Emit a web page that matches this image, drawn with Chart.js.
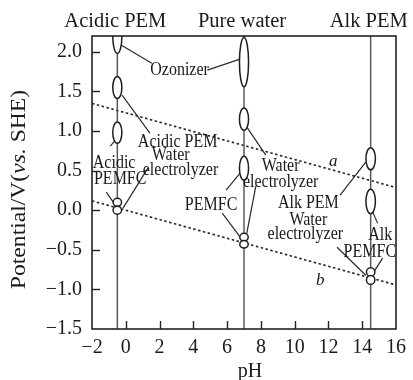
<!DOCTYPE html>
<html><head><meta charset="utf-8">
<script src="https://cdn.jsdelivr.net/npm/chart.js@4.4.1/dist/chart.umd.min.js"></script>
<style>html,body{margin:0;padding:0;background:#fff}#wrap{width:413px;height:380px}</style>
</head><body><div id="wrap"><canvas id="c" width="413" height="380"></canvas></div>
<script>
// ---- data ----
const xTicks = [-2, 0, 2, 4, 6, 8, 10, 12, 14, 16];
const yTicks = [-1.5, -1.0, -0.5, 0.0, 0.5, 1.0, 1.5, 2.0];
const xRange = [-2, 16];
const yRange = [-1.5, 2.2];
const phLines = [-0.5, 7, 14.5];
const phLineLabels = ['Acidic PEM', 'Pure water', 'Alk PEM'];
const lineX = [-2, 16];
const lineA = [1.348, 0.286];   // O2/H2O
const lineB = [0.118, -0.944];  // H+/H2
const ellipseX  = [-0.5, -0.5, -0.5, -0.5, -0.5, 7, 7, 7, 7, 7, 14.5, 14.5, 14.5, 14.5];
const ellipseY  = [2.2, 1.55, 0.98, 0.10, 0.0, 1.87, 1.15, 0.53, -0.34, -0.43, 0.65, 0.11, -0.78, -0.88];
const ellipseRy = [0.22, 0.14, 0.135, 0.05, 0.05, 0.31, 0.14, 0.15, 0.048, 0.048, 0.14, 0.155, 0.055, 0.055];
const ellipseRx = [0.27, 0.27, 0.27, 0.25, 0.25, 0.27, 0.27, 0.27, 0.25, 0.25, 0.28, 0.28, 0.25, 0.25];
const leaderFrom = [[-0.28, 2.085], [4.83, 1.769], [-0.22, 1.453], [-0.16, 0.027], [-0.45, 0.923], [-1.155, 0.229],
                    [7.17, 1.049], [7.70, 0.304], [6.82, 0.481], [5.71, -0.037], [14.21, 0.607], [12.51, -0.468],
                    [14.62, -0.024], [15.21, -0.605]];
const leaderTo   = [[1.54, 1.857], [6.76, 1.908], [1.43, 0.973], [1.31, 0.532], [-0.92, 0.809], [-0.745, 0.103],
                    [8.29, 0.696], [7.11, -0.352], [5.94, 0.254], [6.93, -0.385], [12.69, 0.191], [14.21, -0.821],
                    [14.91, -0.163], [14.68, -0.782]];
const noteText = ['Ozonizer', 'Acidic PEM', 'Water', 'electrolyzer', 'Acidic', 'PEMFC', 'Water', 'electrolyzer',
                  'PEMFC', 'Alk PEM', 'Water', 'electrolyzer', 'Alk', 'PEMFC'];
const noteX = [3.185, 3.07, 2.66, 3.24, -0.69, -0.33, 9.17, 9.17, 5.05, 10.81, 10.81, 10.63, 15.07, 14.45];
const noteY = [1.769, 0.860, 0.696, 0.506, 0.595, 0.393, 0.557, 0.355, 0.070, 0.090, -0.125, -0.302, -0.315, -0.529];
const lineNames = ['a', 'b'];
const lineNameX = [12.28, 11.51];
const lineNameY = [0.62, -0.882];

const SERIF = '"Liberation Serif", "DejaVu Serif", serif';
const INK = '#1a1a1a';
const fmtY = v => (v < 0 ? '\u2212' : '') + Math.abs(v).toFixed(1);
const fmtX = v => (v < 0 ? '\u2212' : '') + Math.abs(v);

const overlay = {
  id: 'overlay',
  afterDatasetsDraw(chart) {
    const {ctx, chartArea: a, scales: {x, y}} = chart;
    const X = v => x.getPixelForValue(v), Y = v => y.getPixelForValue(v);
    ctx.save();
    // leader lines
    ctx.strokeStyle = '#2a2a2a'; ctx.lineWidth = 1.2;
    leaderFrom.forEach((p, i) => {
      const q = leaderTo[i];
      ctx.beginPath(); ctx.moveTo(X(p[0]), Y(p[1])); ctx.lineTo(X(q[0]), Y(q[1])); ctx.stroke();
    });
    ctx.save();
    ctx.beginPath(); ctx.rect(a.left, a.top, a.right - a.left, a.bottom - a.top); ctx.clip();
    // ellipses
    ellipseX.forEach((ex, i) => {
      const cx = X(ex), cy = Y(ellipseY[i]);
      const rx = Math.abs(X(ex + ellipseRx[i]) - cx);
      const ry = Math.abs(Y(ellipseY[i] + ellipseRy[i]) - cy);
      ctx.beginPath(); ctx.ellipse(cx, cy, rx, ry, 0, 0, 2 * Math.PI);
      ctx.fillStyle = '#fff'; ctx.fill();
      ctx.lineWidth = 1.5; ctx.strokeStyle = '#1e1e1e'; ctx.stroke();
    });
    // notes (slightly tall, condensed serif)
    ctx.fillStyle = INK; ctx.textAlign = 'center'; ctx.textBaseline = 'middle';
    ctx.font = '16.5px ' + SERIF;
    noteText.forEach((t, i) => {
      ctx.save();
      ctx.translate(X(noteX[i]), Y(noteY[i]));
      ctx.scale(0.97, 1.16);
      ctx.fillText(t, 0, 0);
      ctx.restore();
    });
    ctx.font = 'italic 17px ' + SERIF;
    lineNames.forEach((t, i) => ctx.fillText(t, X(lineNameX[i]), Y(lineNameY[i])));
    ctx.restore();
    // frame
    ctx.strokeStyle = '#222'; ctx.lineWidth = 1.6;
    ctx.strokeRect(a.left, a.top, a.right - a.left, a.bottom - a.top);
    // inner ticks
    ctx.lineWidth = 1.4;
    xTicks.forEach(v => {
      if (v <= xRange[0] || v >= xRange[1]) return;
      const px = Math.round(X(v)) + 0.5;
      ctx.beginPath(); ctx.moveTo(px, a.bottom); ctx.lineTo(px, a.bottom - 8); ctx.stroke();
    });
    yTicks.forEach(v => {
      if (v <= yRange[0] || v >= yRange[1]) return;
      const py = Math.round(Y(v)) + 0.5;
      ctx.beginPath(); ctx.moveTo(a.left, py); ctx.lineTo(a.left + 8, py); ctx.stroke();
    });
    ctx.fillStyle = INK; ctx.textAlign = 'center'; ctx.textBaseline = 'middle';
    // headers
    ctx.font = '20.5px ' + SERIF;
    phLineLabels.forEach((t, i) => ctx.fillText(t, X(phLines[i]) - 2, a.top - 14));
    // x title
    ctx.font = '20px ' + SERIF;
    ctx.fillText('pH', (a.left + a.right) / 2 + 6, a.bottom + 43);
    // y title with italic vs.
    ctx.save();
    ctx.translate(20, (a.top + a.bottom) / 2 + 7);
    ctx.rotate(-Math.PI / 2);
    ctx.scale(1.18, 1);
    const parts = [['Potential/V(', '20px '], ['vs.', 'italic 20px '], [' SHE)', '20px ']];
    let total = 0;
    parts.forEach(p => { ctx.font = p[1] + SERIF; total += ctx.measureText(p[0]).width; });
    let cx = -total / 2;
    ctx.textAlign = 'left';
    parts.forEach(p => { ctx.font = p[1] + SERIF; ctx.fillText(p[0], cx, 0); cx += ctx.measureText(p[0]).width; });
    ctx.restore();
    ctx.restore();
  }
};

const datasets = [];
phLines.forEach(v => datasets.push({
  data: [{x: v, y: yRange[0]}, {x: v, y: yRange[1]}],
  showLine: true, borderColor: '#5a5a5a', borderWidth: 1.5, pointRadius: 0
}));
[lineA, lineB].forEach(arr => datasets.push({
  data: lineX.map((xv, i) => ({x: xv, y: arr[i]})),
  showLine: true, borderColor: '#2a2a2a', borderWidth: 1.7, borderDash: [2.5, 2.5], pointRadius: 0
}));

new Chart(document.getElementById('c'), {
  type: 'scatter',
  data: {datasets},
  options: {
    responsive: false, animation: false,
    layout: {padding: {left: 0, top: 36, right: 14.5, bottom: 0}},
    plugins: {legend: {display: false}, tooltip: {enabled: false}},
    scales: {
      x: {
        type: 'linear', min: xRange[0], max: xRange[1],
        afterBuildTicks: s => { s.ticks = xTicks.map(v => ({value: v})); },
        afterFit: s => { s.height = 51; },
        ticks: {callback: v => fmtX(v), font: {family: SERIF, size: 20}, color: INK, padding: 7, maxRotation: 0, autoSkip: false},
        grid: {display: true, drawOnChartArea: false, drawTicks: false},
        border: {display: false}
      },
      y: {
        type: 'linear', min: yRange[0], max: yRange[1],
        afterBuildTicks: s => { s.ticks = yTicks.map(v => ({value: v})); },
        afterFit: s => { s.width = 92; },
        ticks: {callback: v => fmtY(v), font: {family: SERIF, size: 20}, color: INK, padding: 10, autoSkip: false},
        grid: {display: true, drawOnChartArea: false, drawTicks: false},
        border: {display: false}
      }
    }
  },
  plugins: [overlay]
});
</script></body></html>
